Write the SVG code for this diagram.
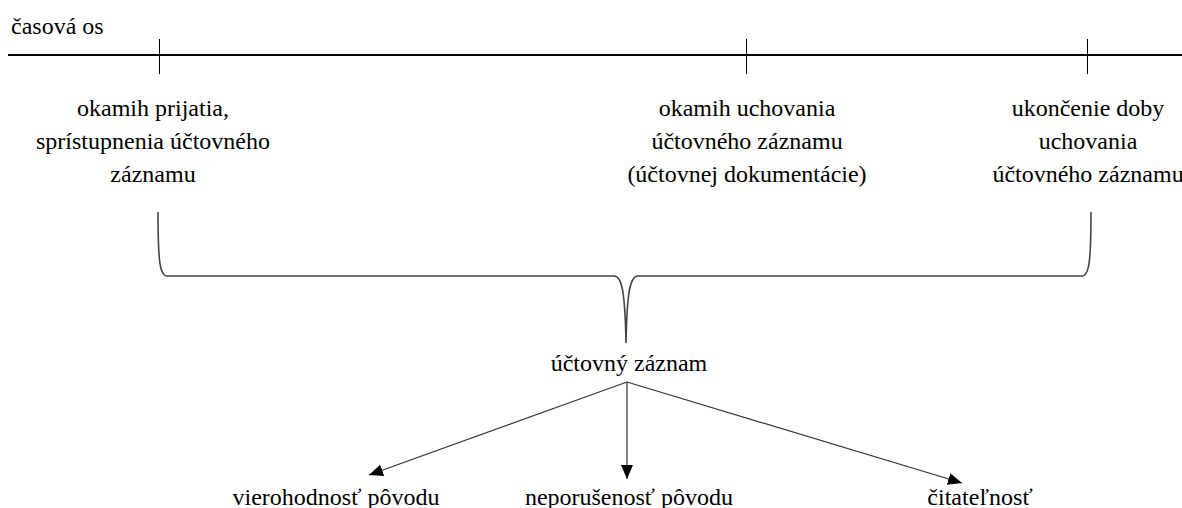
<svg xmlns="http://www.w3.org/2000/svg" width="1182" height="508" viewBox="0 0 1182 508">
<style>
text{font-family:'Liberation Serif','Times New Roman',Times,'DejaVu Serif',serif;font-size:24px;fill:#000}
.t{text-anchor:middle}
.ax{stroke:#000;stroke-width:2;fill:none}
.tk{stroke:#000;stroke-width:1;fill:none}
.br{stroke:#444;stroke-width:1.6;fill:none}
.ar{stroke:#333;stroke-width:1.2;fill:none;marker-end:url(#ah)}
</style>
<defs>
<marker id="ah" viewBox="0 0 14 12" refX="14" refY="6" markerWidth="14" markerHeight="12" markerUnits="userSpaceOnUse" orient="auto">
<path d="M0,0 L14,6 L0,12 Z" fill="#000"/>
</marker>
</defs>
<g id="axis">
<text x="11" y="34" font-family="Liberation Serif, serif">časová os</text>
<line class="ax" x1="8" y1="55" x2="1182" y2="55"/>
<line class="tk" x1="159.5" y1="39" x2="159.5" y2="74"/>
<line class="tk" x1="746.5" y1="39" x2="746.5" y2="74"/>
<line class="tk" x1="1087.5" y1="39" x2="1087.5" y2="74"/>
</g>
<g id="node-prijatie">
<text class="t" x="153" y="116">okamih prijatia,</text>
<text class="t" x="153" y="149">sprístupnenia účtovného</text>
<text class="t" x="153" y="182">záznamu</text>
</g>
<g id="node-uchovanie">
<text class="t" x="747" y="116">okamih uchovania</text>
<text class="t" x="747" y="149">účtovného záznamu</text>
<text class="t" x="747" y="182">(účtovnej dokumentácie)</text>
</g>
<g id="node-ukoncenie">
<text class="t" x="1088" y="116">ukončenie doby</text>
<text class="t" x="1088" y="149">uchovania</text>
<text class="t" x="1088" y="182">účtovného záznamu</text>
</g>
<g id="brace">
<path class="br" d="M158,212 C158,262 160,276 167,276 L614,276 C622,276 625,292 626,343 C627,292 630,276 638,276 L1082,276 C1089,276 1091,262 1091,212"/>
</g>
<g id="node-zaznam">
<text class="t" x="629" y="371">účtovný záznam</text>
</g>
<g id="node-vierohodnost">
<text class="t" x="336" y="505">vierohodnosť pôvodu</text>
</g>
<g id="node-neporusenost">
<text class="t" x="629" y="505">neporušenosť pôvodu</text>
</g>
<g id="node-citatelnost">
<text class="t" x="980" y="505">čitateľnosť</text>
</g>
<g id="connectors">
<line class="ar" x1="627" y1="382" x2="369" y2="475"/>
<line class="ar" x1="627" y1="382" x2="627" y2="479"/>
<line class="ar" x1="627" y1="382" x2="962" y2="483"/>
</g>
</svg>
